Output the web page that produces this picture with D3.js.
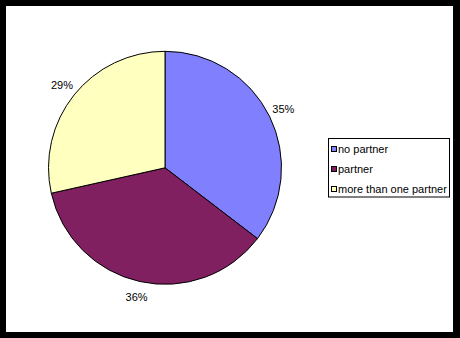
<!DOCTYPE html>
<html><head><meta charset="utf-8">
<script src="https://cdn.jsdelivr.net/npm/d3@7"></script>
<style>body{margin:0;padding:0;background:#fff}svg{display:block}text{font-family:"Liberation Sans",Arial,sans-serif;font-size:11px;fill:#000}</style>
</head><body>
<script>
const categories = ["no partner", "partner", "more than one partner"];
const values = [35.4, 36.1, 28.5];
const pctLabels = ["35%", "36%", "29%"];
const colors = ["#8080FF", "#802060", "#FFFFC0"];

const W = 460, H = 338;
const svg = d3.select("body").append("svg").attr("width", W).attr("height", H);
svg.append("rect").attr("x",0).attr("y",0).attr("width",W).attr("height",H).attr("fill","#000");
svg.append("rect").attr("x",6).attr("y",6).attr("width",447).attr("height",326).attr("fill","#fff");

const cx = 165, cy = 167.8, r = 116.5;
const data = categories.map((c,i)=>({cat:c, v:values[i], lab:pctLabels[i], col:colors[i]}));
const pie = d3.pie().value(d=>d.v).sort(null);
const arcs = pie(data);
const arc = d3.arc().innerRadius(0).outerRadius(r);
const labelArc = d3.arc().innerRadius(132).outerRadius(132);

const g = svg.append("g").attr("transform",`translate(${cx},${cy})`);
g.selectAll("path").data(arcs).join("path")
  .attr("d", arc).attr("fill", d=>d.data.col)
  .attr("stroke","#000").attr("stroke-width",1).attr("stroke-linejoin","round");
g.selectAll("text").data(arcs).join("text")
  .attr("transform", d=>`translate(${labelArc.centroid(d)})`)
  .attr("text-anchor","middle").attr("dy","0.36em")
  .text(d=>d.data.lab);

// legend
const lg = svg.append("g");
lg.append("rect").attr("x",328.5).attr("y",138.5).attr("width",121).attr("height",58.5)
  .attr("fill","#fff").attr("stroke","#000").attr("stroke-width",1);
const items = lg.selectAll("g.item").data(data).join("g").attr("class","item")
  .attr("transform",(d,i)=>`translate(0,${149 + i*20})`);
items.append("rect").attr("x",331.5).attr("y",-2.5).attr("width",5).attr("height",5)
  .attr("fill",d=>d.col).attr("stroke","#000").attr("stroke-width",1);
items.append("text").attr("x",338).attr("y",0).attr("dy","0.36em").text(d=>d.cat);
</script>
</body></html>
